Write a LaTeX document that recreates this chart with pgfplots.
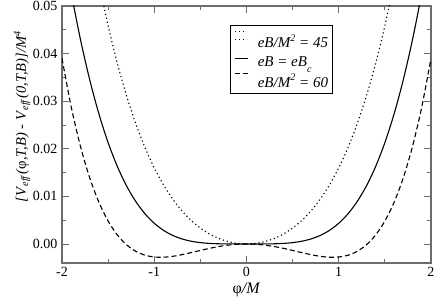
\documentclass[border=0pt]{standalone}
\usepackage{pgfplots}
\pgfplotsset{compat=1.18}
\usepackage{pgfplotstable}
\usepackage{fontspec}
\setmainfont{Liberation Serif}
\usetikzlibrary{calc}

\newcommand{\sups}[1]{\kern-0.5pt\raisebox{6.5pt}{\fontsize{10}{10}\selectfont\textit{#1}}}
\newcommand{\subs}[1]{\raisebox{-6pt}{\fontsize{10}{10}\selectfont\textit{#1}}}

\pgfplotstableread{
x y
-1.6 0.054938
-1.5 0.045844
-1.4 0.037946
-1.3 0.031121
-1.2 0.025258
-1.1 0.020249
-1.0 0.016000
-0.9 0.012421
-0.8 0.009434
-0.7 0.006965
-0.6 0.004954
-0.5 0.003344
-0.4 0.002090
-0.3 0.001153
-0.2 0.000506
-0.1 0.000125
0.0 0.0
0.1 0.000125
0.2 0.000506
0.3 0.001153
0.4 0.002090
0.5 0.003344
0.6 0.004954
0.7 0.006965
0.8 0.009434
0.9 0.012421
1.0 0.016000
1.1 0.020249
1.2 0.025258
1.3 0.031121
1.4 0.037946
1.5 0.045844
1.6 0.054938
}\dotdata

\pgfplotstableread{
x y
-2.0 0.064100
-1.9 0.052807
-1.8 0.042976
-1.7 0.034522
-1.6 0.027333
-1.5 0.021292
-1.4 0.016283
-1.3 0.012193
-1.2 0.008911
-1.1 0.006330
-1.0 0.004347
-0.9 0.002866
-0.8 0.001797
-0.7 0.001058
-0.6 0.000573
-0.5 0.000277
-0.4 0.000114
-0.3 0.000036
-0.2 0.000007
-0.1 0.0000004
0.0 0.0
0.1 0.0000004
0.2 0.000007
0.3 0.000036
0.4 0.000114
0.5 0.000277
0.6 0.000573
0.7 0.001058
0.8 0.001797
0.9 0.002866
1.0 0.004347
1.1 0.006330
1.2 0.008911
1.3 0.012193
1.4 0.016283
1.5 0.021292
1.6 0.027333
1.7 0.034522
1.8 0.042976
1.9 0.052807
2.0 0.064100
}\soliddata

\pgfplotstableread{
x y
-2.0 0.038997
-1.9 0.028788
-1.8 0.020518
-1.7 0.013921
-1.6 0.008758
-1.5 0.004814
-1.4 0.001894
-1.3 -0.000174
-1.2 -0.001547
-1.1 -0.002361
-1.0 -0.002738
-0.9 -0.002786
-0.8 -0.002596
-0.7 -0.002252
-0.6 -0.001820
-0.5 -0.001361
-0.4 -0.000921
-0.3 -0.000540
-0.2 -0.000247
-0.1 -0.000063
0.0 0.0
0.1 -0.000063
0.2 -0.000247
0.3 -0.000540
0.4 -0.000921
0.5 -0.001361
0.6 -0.001820
0.7 -0.002252
0.8 -0.002596
0.9 -0.002786
1.0 -0.002738
1.1 -0.002361
1.2 -0.001547
1.3 -0.000174
1.4 0.001894
1.5 0.004814
1.6 0.008758
1.7 0.013921
1.8 0.020518
1.9 0.028788
2.0 0.038997
}\dashdata

\begin{document}
\begin{tikzpicture}
\begin{axis}[
  scale only axis,
  width=369pt, height=257pt,
  xmin=-2, xmax=2, ymin=-0.004, ymax=0.05,
  xtick={-2,-1,0,1,2},
  xticklabels={-2,-1,0,1,2},
  ytick={0,0.01,0.02,0.03,0.04,0.05},
  yticklabels={0.00,0.01,0.02,0.03,0.04,0.05},
  minor x tick num=1,
  minor y tick num=1,
  tick align=inside,
  major tick length=7pt,
  minor tick length=4pt,
  tick style={draw=gray!85!black, line width=0.8pt},
  axis line style={draw=gray!85!black, line width=1.2pt},
  ticklabel style={font=\fontsize{14}{16}\selectfont},
  xticklabel style={yshift=-1pt},
  yticklabel style={xshift=-1pt},
  xlabel={φ\textit{/M}},
  ylabel={\textit{[V}\textsubscript{\textit{eff}}\textit{(}φ\textit{,T,B) - V}\textsubscript{\textit{eff}}\textit{(0,T,B)]/M}\textsuperscript{\textit{4}}},
  xlabel style={font=\fontsize{16}{18}\selectfont, at={(axis description cs:0.5,-0.105)}, anchor=center},
  ylabel style={font=\fontsize{14.5}{16}\selectfont, at={(axis description cs:-0.108,0.57)}, anchor=center},
  legend style={at={(axis description cs:0.455,0.925)}, anchor=north west,
    draw=black, line width=0.6pt, font=\fontsize{15}{17}\selectfont,
    nodes={inner sep=0pt}, column sep=0pt,
    inner xsep=4.5pt, inner ysep=4pt, row sep=5pt},
  legend cell align=left,
]
\addplot[black, line width=1.1pt, dash pattern=on 1.2pt off 2.8pt, smooth,
  legend image code/.code={\draw[black, line width=1.1pt, dash pattern=on 1.2pt off 2.8pt] (0pt,8pt) -- (11pt,8pt); \path (0pt,0pt) -- (12pt,0pt);}]
  table[x=x,y=y] {\dotdata};
\addlegendentry{\hspace*{9pt}\textit{eB/M}\sups{2}\textit{ = 45}\rule[-3pt]{0pt}{21pt}}
\addplot[black, line width=1.1pt, smooth,
  legend image code/.code={\draw[black, line width=1.1pt] (0pt,2pt) -- (13pt,2pt);}]
  table[x=x,y=y] {\soliddata};
\addlegendentry{\hspace*{9pt}\textit{eB = eB}\subs{c}\rule[-13pt]{0pt}{25pt}}
\addplot[black, line width=1.1pt, dash pattern=on 5pt off 3pt, smooth,
  legend image code/.code={\draw[black, line width=1.1pt, dash pattern=on 5pt off 3pt] (0pt,8pt) -- (13pt,8pt);}]
  table[x=x,y=y] {\dashdata};
\addlegendentry{\hspace*{9pt}\textit{eB/M}\sups{2}\textit{ = 60}\rule[-9pt]{0pt}{23pt}}
\end{axis}
\pgfresetboundingbox
\path ($(current axis.south west)+(-62pt,-43pt)$) rectangle ($(current axis.north east)+(5pt,6pt)$);
\end{tikzpicture}
\end{document}
